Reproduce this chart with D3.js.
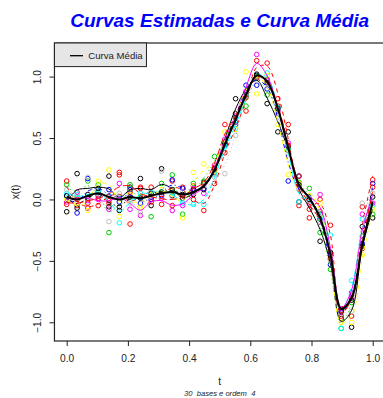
<!DOCTYPE html>
<html>
<head>
<meta charset="utf-8">
<script src="https://cdn.jsdelivr.net/npm/d3@7"></script>
<style>
  body { margin: 0; background: #fff; }
  svg { display: block; font-family: "Liberation Sans", Arial, sans-serif; }
</style>
</head>
<body>
<svg id="chart" width="383" height="398"></svg>
<script>
// pontos de avaliacao (30 instantes em [0,1])
const tempos = [0, 0.034, 0.069, 0.103, 0.138, 0.172, 0.207, 0.241, 0.276, 0.310,
  0.345, 0.379, 0.414, 0.448, 0.483, 0.517, 0.552, 0.586, 0.621, 0.655,
  0.690, 0.724, 0.759, 0.793, 0.828, 0.862, 0.897, 0.931, 0.966, 1];

// curva media
const curvaMedia = [0.02, 0.00, 0.03, 0.05, 0.02, 0.00, 0.02, 0.01, 0.03, 0.05,
  0.06, 0.04, 0.06, 0.11, 0.24, 0.45, 0.65, 0.85, 1.01, 0.96,
  0.74, 0.42, 0.12, 0.01, -0.15, -0.45, -0.89, -0.80, -0.37, -0.02];

// observacoes de cada amostra
const amostra1 = [-0.10, 0.21, 0.04, 0.06, 0.19, -0.09, 0.10, 0.17, -0.05, 0.25,
  0.03, 0.01, 0.04, 0.14, 0.22, 0.46, 0.82, 0.85, 1.02, 0.78,
  0.55, 0.55, -0.02, 0.02, -0.34, -0.46, -0.97, -1.04, -0.22, -0.15];
const amostra2 = [0.15, -0.05, -0.07, -0.05, -0.03, 0.22, -0.20, 0.10, 0.10, -0.04,
  0.15, 0.10, 0.00, -0.09, 0.13, 0.38, 0.61, 0.72, 1.13, 1.11,
  0.82, 0.61, -0.05, -0.08, 0.00, -0.21, -0.90, -0.95, -0.06, 0.16];
const amostra3 = [0.12, 0.02, 0.15, 0.12, -0.27, 0.02, 0.12, 0.02, -0.14, 0.13,
  0.20, -0.12, 0.13, 0.15, 0.35, 0.47, 0.66, 0.76, 1.00, 0.85,
  0.72, 0.40, 0.14, 0.09, -0.27, -0.57, -1.05, -0.84, -0.30, -0.12];
const amostra4 = [0.03, -0.11, 0.17, 0.03, 0.08, -0.02, 0.08, -0.03, 0.00, 0.03,
  0.16, 0.09, 0.07, 0.09, 0.24, 0.44, 0.63, 0.93, 0.93, 0.90,
  0.74, 0.15, 0.19, 0.00, -0.16, -0.53, -0.92, -0.76, -0.36, 0.13];
const amostra5 = [0.05, 0.04, 0.02, 0.07, 0.03, -0.19, 0.00, 0.05, 0.06, 0.06,
  0.05, -0.03, -0.04, -0.04, 0.20, 0.43, 0.58, 0.84, 0.99, 1.03,
  0.75, 0.42, -0.02, 0.01, -0.14, -0.29, -1.05, -0.66, -0.16, -0.05];
const amostra6 = [-0.02, 0.06, -0.01, 0.00, -0.08, 0.13, -0.08, -0.13, 0.02, 0.01,
  -0.09, -0.05, 0.09, 0.05, 0.28, 0.49, 0.68, 0.88, 1.18, 0.98,
  0.72, 0.46, 0.10, -0.04, 0.04, -0.44, -0.89, -0.80, -0.12, -0.03];
const amostra7 = [0.00, -0.03, -0.09, 0.15, 0.24, -0.14, 0.04, -0.06, 0.04, 0.08,
  0.07, -0.15, 0.22, 0.29, 0.23, 0.55, 0.57, 1.04, 0.86, 1.01,
  0.61, 0.20, 0.13, 0.03, -0.03, -0.47, -1.00, -1.00, -0.45, -0.08];
const amostra8 = [0.08, 0.01, 0.18, 0.04, -0.18, 0.05, -0.03, -0.11, 0.03, 0.23,
  0.02, 0.06, 0.05, 0.11, 0.18, 0.21, 0.52, 0.86, 0.97, 0.96,
  0.70, 0.38, 0.08, -0.01, -0.18, -0.50, -0.93, -0.91, -0.03, 0.05];
const amostra9 = [0.03, -0.07, 0.01, 0.09, -0.06, -0.06, 0.02, 0.01, 0.05, 0.06,
  0.08, 0.04, 0.08, 0.08, 0.25, 0.45, 0.70, 0.87, 1.01, 0.95,
  0.74, 0.43, 0.12, 0.00, -0.12, -0.43, -0.91, -0.82, -0.38, 0.02];
const amostra10 = [-0.04, 0.00, -0.03, 0.01, -0.01, 0.20, 0.06, 0.09, -0.02, 0.04,
  -0.05, 0.03, 0.11, 0.13, 0.26, 0.61, 0.64, 0.83, 0.99, 0.97,
  0.76, 0.44, 0.19, -0.15, -0.10, -0.48, -0.95, -0.78, -0.40, 0.10];

const amostras = [amostra1, amostra2, amostra3, amostra4, amostra5,
  amostra6, amostra7, amostra8, amostra9, amostra10];

const xTicks = [0, 0.2, 0.4, 0.6, 0.8, 1.0];
const yTicks = [-1.0, -0.5, 0.0, 0.5, 1.0];

// paleta antiga do R e tipos de linha do matplot
const cores = ["#000000", "#FF0000", "#00CD00", "#0000FF", "#00FFFF", "#FF00FF", "#FFFF00", "#BEBEBE"];
const tracos = [null, "4,4", "1,3", "1,3,4,3", "7,3"];

const svg = d3.select("#chart");
const fmt = d => d3.format(".1f")(d).replace("-", "\u2212");

const x = d3.scaleLinear().domain([0, 1]).range([66.7, 372.7]);
const y = d3.scaleLinear().domain([-1, 1]).range([322.3, 76.6]);

const plotL = x(-0.04), plotR = x(1.04), plotT = 43, plotB = 341;

svg.append("defs").append("clipPath").attr("id", "area")
  .append("rect").attr("x", plotL).attr("y", plotT)
  .attr("width", plotR - plotL).attr("height", plotB - plotT);

const plot = svg.append("g").attr("clip-path", "url(#area)");

// pontos
amostras.forEach((s, i) => {
  plot.append("g").selectAll("circle")
    .data(s)
    .join("circle")
    .attr("cx", (d, j) => x(tempos[j]))
    .attr("cy", d => y(d))
    .attr("r", 2.3)
    .attr("fill", "none")
    .attr("stroke", cores[i % cores.length])
    .attr("stroke-width", 1);
});

// curvas estimadas: media + residuo suavizado
const linha = d3.line()
  .x((d, j) => x(tempos[j]))
  .y(d => y(d))
  .curve(d3.curveCatmullRom);

amostras.forEach((s, i) => {
  const res = s.map((v, j) => v - curvaMedia[j]);
  const suave = res.map((r, j) => {
    const a = res[Math.max(j - 1, 0)], b = res[Math.min(j + 1, res.length - 1)];
    return (a + 2 * r + b) / 4;
  });
  plot.append("path")
    .datum(suave.map((r, j) => curvaMedia[j] + r))
    .attr("d", linha)
    .attr("fill", "none")
    .attr("stroke", cores[i % cores.length])
    .attr("stroke-width", 1)
    .attr("stroke-dasharray", tracos[i % tracos.length]);
});

plot.append("path")
  .datum(curvaMedia)
  .attr("d", linha)
  .attr("fill", "none")
  .attr("stroke", "#000")
  .attr("stroke-width", 2);

// moldura
svg.append("rect")
  .attr("x", plotL).attr("y", plotT)
  .attr("width", plotR - plotL).attr("height", plotB - plotT)
  .attr("fill", "none").attr("stroke", "#222").attr("stroke-width", 1.2);

// eixos
const gx = svg.append("g").attr("transform", `translate(0,${plotB})`)
  .call(d3.axisBottom(x).tickValues(xTicks).tickSize(5).tickFormat(d3.format(".1f")));
gx.select(".domain").remove();
gx.selectAll("line").attr("stroke", "#222");
gx.selectAll("text").attr("y", 21.4).attr("dy", 0)
  .attr("font-size", 10.2).attr("fill", "#222");

const gy = svg.append("g").attr("transform", `translate(${plotL},0)`)
  .call(d3.axisLeft(y).tickValues(yTicks).tickSize(5).tickFormat(fmt));
gy.select(".domain").remove();
gy.selectAll("line").attr("stroke", "#222");
gy.selectAll("text")
  .attr("transform", "rotate(-90)")
  .attr("x", 0).attr("y", -13.2).attr("dy", 0)
  .attr("text-anchor", "middle")
  .attr("font-size", 10.2).attr("fill", "#222");

// titulos
svg.append("text")
  .attr("x", (plotL + plotR) / 2).attr("y", 26.7)
  .attr("text-anchor", "middle")
  .attr("font-size", 19).attr("font-weight", "bold").attr("font-style", "italic")
  .attr("fill", "#0000FF")
  .text("Curvas Estimadas e Curva Média");

svg.append("text")
  .attr("x", (plotL + plotR) / 2).attr("y", 385)
  .attr("text-anchor", "middle").attr("font-size", 10.2).attr("fill", "#222")
  .text("t");

svg.append("text")
  .attr("x", (plotL + plotR) / 2).attr("y", 395.5)
  .attr("text-anchor", "middle").attr("font-size", 7.6).attr("font-style", "italic")
  .attr("fill", "#222")
  .style("white-space", "pre")
  .text("30  bases e ordem  4");

svg.append("text")
  .attr("transform", `translate(18.5,${(plotT + plotB) / 2}) rotate(-90)`)
  .attr("text-anchor", "middle").attr("font-size", 10.2).attr("fill", "#222")
  .text("x(t)");

// legenda
const leg = svg.append("g");
leg.append("rect")
  .attr("x", plotL).attr("y", plotT).attr("width", 92).attr("height", 23.6)
  .attr("fill", "#e6e6e6").attr("stroke", "#222").attr("stroke-width", 1);
leg.append("line")
  .attr("x1", 70).attr("x2", 83).attr("y1", 55.7).attr("y2", 55.7)
  .attr("stroke", "#000").attr("stroke-width", 1.3);
leg.append("text")
  .attr("x", 88.3).attr("y", 59.2).attr("font-size", 9.6).attr("fill", "#222")
  .text("Curva Média");
</script>
</body>
</html>
